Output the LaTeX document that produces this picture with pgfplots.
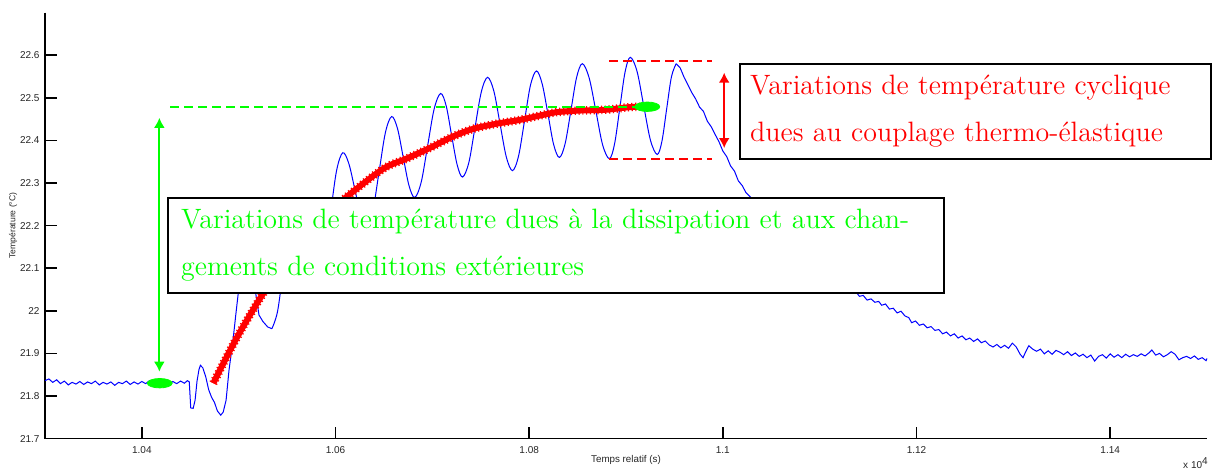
\documentclass[border=0pt]{standalone}
\usepackage{fontspec}
\setsansfont{Liberation Sans}
\usepackage{pgfplots}
\pgfplotsset{compat=1.18}
\usetikzlibrary{arrows.meta}
\begin{document}
\begin{tikzpicture}
\path[use as bounding box] (-22.5pt,-15.2pt) rectangle (585pt,219.3pt);
\begin{axis}[
  at={(0pt,0pt)}, anchor=south west,
  scale only axis, width=581pt, height=213pt,
  xmin=1.03, xmax=1.15, ymin=21.7, ymax=22.7,
  axis line style={draw=none},
  xmajorticks=true, ymajorticks=true,
  xtick pos=left, ytick pos=left,
  tick align=inside, major tick length=6pt,
  major tick style={black, line width=0.8pt},
  xtick={1.04,1.06,1.08,1.1,1.12,1.14},
  xticklabels={1.04,1.06,1.08,1.1,1.12,1.14},
  ytick={21.7,21.8,21.9,22,22.1,22.2,22.3,22.4,22.5,22.6},
  yticklabels={21.7,21.8,21.9,22,22.1,22.2,22.3,22.4,22.5,22.6},
  /pgf/number format/assume math mode=true,
  ticklabel style={font=\sffamily\fontsize{5}{6}\selectfont, text=black!85},
  xticklabel style={yshift=-0.5pt},
  yticklabel style={xshift=0.8pt},
  xlabel={Temps relatif (s)}, ylabel={Température (°C)},
  xlabel style={font=\sffamily\fontsize{4.9}{5.5}\selectfont, text=black!85,
    at={(axis description cs:0.5,-0.05)}, anchor=center},
  ylabel style={font=\sffamily\fontsize{4.3}{5.5}\selectfont, text=black!85,
    at={(axis description cs:-0.0275,0.5)}, anchor=center},
  clip=false,
]
% left and bottom axis lines (no box)
\draw[black, line width=0.6pt] (rel axis cs:0,1) -- (rel axis cs:0,0) -- (rel axis cs:1,0);
% blue measured signal: plateau and first oscillation
\addplot[blue, line width=0.5pt] coordinates {
(1.0300,21.836) (1.0304,21.840) (1.0308,21.832) (1.0312,21.838) (1.0316,21.829)
(1.0320,21.835) (1.0324,21.826) (1.0328,21.832) (1.0332,21.828) (1.0336,21.834)
(1.0340,21.827) (1.0344,21.833) (1.0348,21.829) (1.0352,21.835) (1.0356,21.826)
(1.0360,21.832) (1.0364,21.828) (1.0368,21.833) (1.0372,21.825) (1.0376,21.832)
(1.0380,21.829) (1.0384,21.835) (1.0388,21.827) (1.0392,21.833) (1.0396,21.828)
(1.0400,21.834) (1.0404,21.829) (1.0408,21.836) (1.0412,21.830) (1.0416,21.834)
(1.0420,21.828) (1.0424,21.833) (1.0428,21.826) (1.0432,21.834) (1.0436,21.829)
(1.0440,21.835) (1.0444,21.830) (1.0447,21.836) (1.0449,21.833) (1.04505,21.772)
(1.0453,21.771) (1.0455,21.790) (1.0457,21.835) (1.0459,21.862) (1.04605,21.872)
(1.0463,21.866) (1.0466,21.845) (1.0469,21.815) (1.0472,21.797) (1.0475,21.785)
(1.0478,21.765) (1.04815,21.755) (1.0484,21.762) (1.0487,21.790) (1.0490,21.860)
(1.04941,21.930) (1.0497,21.990) (1.0500,22.05) (1.0504,22.10) (1.05086,22.12)
(1.0513,22.10) (1.0517,22.05) (1.0521,21.99) (1.0525,21.975) (1.0530,21.962)
(1.05343,21.958)
};
% blue: growing oscillations
\addplot[blue, line width=0.5pt, smooth, tension=0.55] coordinates {
(1.05343,21.958) (1.05402,21.999) (1.05462,22.099) (1.05521,22.199)
(1.05580,22.240) (1.05640,22.217) (1.05699,22.160) (1.05759,22.103)
(1.05818,22.080) (1.05882,22.122) (1.05947,22.226) (1.06011,22.329)
(1.06075,22.371) (1.06137,22.346) (1.06199,22.286) (1.06260,22.225)
(1.06322,22.200) (1.06387,22.237) (1.06451,22.328) (1.06516,22.419)
(1.06580,22.456) (1.06640,22.428) (1.06699,22.361) (1.06759,22.294)
(1.06818,22.266) (1.06885,22.302) (1.06952,22.388) (1.07019,22.474)
(1.07086,22.510) (1.07143,22.481) (1.07199,22.412) (1.07256,22.343)
(1.07312,22.314) (1.07377,22.348) (1.07441,22.431) (1.07506,22.514)
(1.07570,22.548) (1.07635,22.516) (1.07699,22.439) (1.07764,22.361)
(1.07828,22.329) (1.07890,22.363) (1.07952,22.446) (1.08013,22.529)
(1.08075,22.563) (1.08134,22.533) (1.08194,22.462) (1.08253,22.390)
(1.08312,22.360) (1.08371,22.392) (1.08431,22.470) (1.08490,22.548)
(1.08549,22.580) (1.08619,22.547) (1.08689,22.469) (1.08758,22.390)
(1.08828,22.357) (1.08882,22.392) (1.08936,22.476) (1.08990,22.560)
(1.09044,22.595) (1.09114,22.562) (1.09183,22.481) (1.09253,22.400)
(1.09322,22.367) (1.09371,22.398) (1.09420,22.474) (1.09469,22.549)
(1.09518,22.580)
};
% blue: relaxation
\addplot[blue, line width=0.5pt] coordinates {
(1.09518,22.580) (1.0956,22.570) (1.0960,22.548) (1.0964,22.530) (1.0968,22.512)
(1.0972,22.497) (1.0976,22.478) (1.0980,22.468) (1.0984,22.445) (1.0988,22.432)
(1.0992,22.414) (1.0996,22.397) (1.1000,22.375) (1.1004,22.362) (1.1008,22.340)
(1.1012,22.328) (1.1016,22.305) (1.1020,22.294) (1.1024,22.277) (1.1029,22.266)
(1.1053,22.200) (1.1079,22.140) (1.1104,22.090) (1.1125,22.058) (1.1133,22.043)
(1.1137,22.046) (1.1141,22.034) (1.1145,22.036) (1.1149,22.025) (1.1153,22.028)
(1.1157,22.020) (1.1161,22.022) (1.1164,22.013) (1.1168,22.016) (1.1172,22.004)
(1.1176,22.006) (1.1180,21.995) (1.1184,21.999) (1.1188,21.988) (1.1192,21.984)
(1.1195,21.972) (1.1199,21.976) (1.1203,21.966) (1.1207,21.969) (1.1211,21.960)
(1.1215,21.963) (1.1219,21.954) (1.1223,21.956) (1.1227,21.946) (1.1231,21.950)
(1.1235,21.941) (1.1239,21.946) (1.1243,21.936) (1.1247,21.941) (1.1251,21.932)
(1.1255,21.936) (1.1259,21.928) (1.1263,21.934) (1.1267,21.925) (1.1271,21.929)
(1.1275,21.920) (1.1279,21.915) (1.1283,21.921) (1.1287,21.913) (1.1291,21.919)
(1.1295,21.912) (1.1299,21.924) (1.1303,21.915) (1.1307,21.898) (1.1310,21.890)
(1.1313,21.905) (1.1316,21.918) (1.1320,21.910) (1.1324,21.905) (1.1328,21.910)
(1.1332,21.899) (1.1336,21.906) (1.1340,21.898) (1.1344,21.907) (1.1348,21.903)
(1.1352,21.897) (1.1356,21.904) (1.1360,21.895) (1.1364,21.901) (1.1368,21.893)
(1.1372,21.898) (1.1376,21.890) (1.1380,21.896) (1.1384,21.882) (1.1388,21.893)
(1.1392,21.897) (1.1396,21.889) (1.1400,21.899) (1.1404,21.891) (1.1408,21.897)
(1.1412,21.890) (1.1416,21.898) (1.1420,21.892) (1.1424,21.897) (1.1428,21.893)
(1.1432,21.899) (1.1436,21.894) (1.1440,21.901) (1.1443,21.908) (1.1447,21.896)
(1.1451,21.900) (1.1455,21.892) (1.1459,21.897) (1.1463,21.904) (1.1467,21.898)
(1.1471,21.885) (1.1475,21.890) (1.1479,21.893) (1.1483,21.888) (1.1487,21.894)
(1.1491,21.886) (1.1495,21.890) (1.1499,21.883) (1.1500,21.888)
};
% red: mean temperature trend (dense '+' markers look)
\addplot[red, line width=3pt, smooth,
  postaction={draw, red, line width=4.2pt, dash pattern=on 0.6pt off 1.3pt}] coordinates {
(1.04738,21.830) (1.04979,21.936) (1.05254,22.041) (1.05529,22.130)
(1.05807,22.205) (1.06096,22.264) (1.06491,22.333) (1.06732,22.357)
(1.06972,22.382) (1.07212,22.409) (1.07419,22.427) (1.07660,22.439)
(1.07900,22.448) (1.08106,22.458) (1.08278,22.466) (1.08518,22.470)
(1.08794,22.472) (1.09034,22.478) (1.09189,22.479)
};
% green dashed level and arrow
\draw[green, line width=1.2pt, dash pattern=on 4.2pt off 2.8pt]
  (axis cs:1.04292,22.479) -- (axis cs:1.09188,22.479);
\draw[green, line width=1pt, {Latex[length=5pt,width=5.5pt]}-{Latex[length=5pt,width=5.5pt]}]
  (axis cs:1.04181,22.453) -- (axis cs:1.04181,21.857);
\addplot[only marks, mark=*, mark size=2.35pt, mark options={xscale=2.65, fill=green, draw=green}]
  coordinates {(1.04185,21.830) (1.09220,22.479)};
% red dashed envelope and arrow
\draw[red, line width=1.2pt, dash pattern=on 4.5pt off 2.5pt]
  (axis cs:1.08828,22.587) -- (axis cs:1.09890,22.587);
\draw[red, line width=1.2pt, dash pattern=on 4.5pt off 2.5pt]
  (axis cs:1.08828,22.357) -- (axis cs:1.09890,22.357);
\draw[red, line width=1pt, {Latex[length=5pt,width=5.5pt]}-{Latex[length=5pt,width=5.5pt]}]
  (axis cs:1.10014,22.559) -- (axis cs:1.10014,22.382);
% annotation boxes
\node[draw=black, line width=1pt, fill=white, anchor=north west, inner xsep=6.5pt,
  inner ysep=5.5pt, text width=375pt, align=left, text=green,
  font=\fontsize{14}{23.5}\selectfont] at (axis cs:1.04261,22.266)
  {\makebox[375pt][s]{Variations de température dues à la dissipation et aux chan-}\\gements de conditions extérieures};
\node[draw=black, line width=1pt, fill=white, anchor=north west, inner xsep=5pt,
  inner ysep=5.5pt, text width=225.5pt, align=left, text=red,
  font=\fontsize{14}{23.5}\selectfont] at (axis cs:1.10168,22.5806)
  {\makebox[225.5pt][s]{Variations de température cyclique}\\dues au couplage thermo-élastique};
\node[font=\sffamily\fontsize{5}{6}\selectfont, text=black!85, anchor=center]
  at (axis description cs:0.9905,-0.057) {x 10\textsuperscript{4}};
\end{axis}
\end{tikzpicture}
\end{document}
